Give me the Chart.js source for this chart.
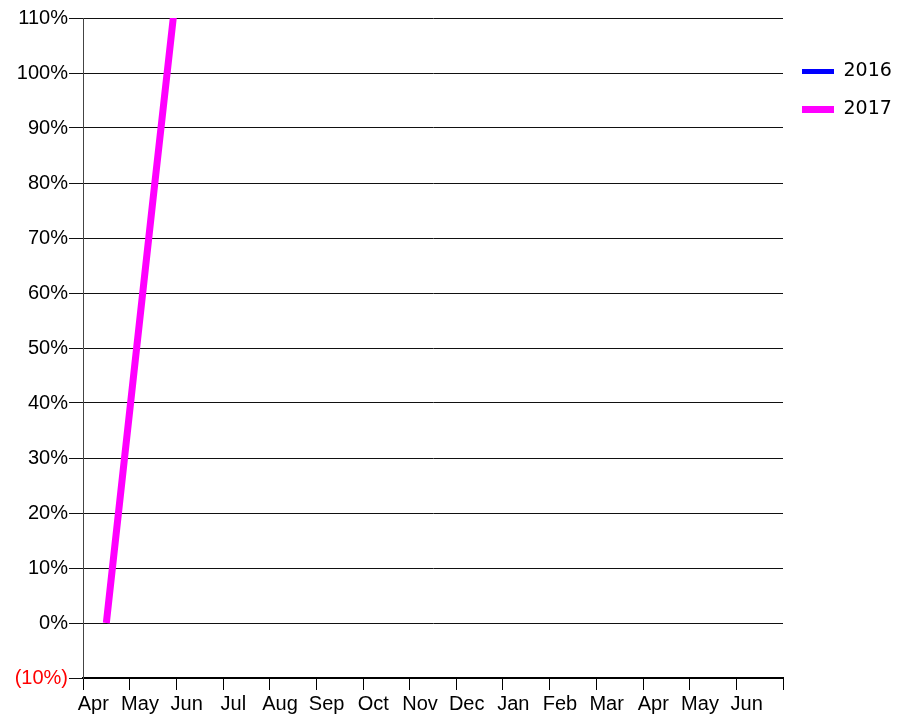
<!DOCTYPE html>
<html>
<head>
<meta charset="utf-8">
<script src="https://cdn.jsdelivr.net/npm/chart.js@4"></script>
<style>
  html, body { margin: 0; padding: 0; background: #fff; }
  #chart { display: block; }
</style>
</head>
<body>
<canvas id="chart" width="898" height="714"></canvas>
<script>
// months along the x axis
const months = ['Apr', 'May', 'Jun', 'Jul', 'Aug', 'Sep', 'Oct', 'Nov', 'Dec',
                'Jan', 'Feb', 'Mar', 'Apr', 'May', 'Jun'];

// series values (percent), null where nothing is drawn
const values2016 = [null, null, null, null, null, null, null, null, null, null, null, null, null, null, null];
const values2017 = [0, 77, 153, null, null, null, null, null, null, null, null, null, null, null, null];

// y axis range
const yMin = -10;
const yMax = 110;
const yStep = 10;

const ctx = document.getElementById('chart');
new Chart(ctx.getContext('2d'), {
  type: 'line',
  data: {
    labels: months,
    datasets: [
      {
        label: '2016',
        data: values2016,
        borderColor: '#0000ff',
        backgroundColor: '#0000ff',
        borderWidth: 5,
        pointRadius: 0,
        tension: 0
      },
      {
        label: '2017',
        data: values2017,
        borderColor: '#ff00ff',
        backgroundColor: '#ff00ff',
        borderWidth: 7,
        pointRadius: 0,
        tension: 0,
        clip: 0
      }
    ]
  },
  options: {
    responsive: false,
    animation: false,
    layout: { padding: { top: 18, right: 0, bottom: 0, left: 0 } },
    plugins: {
      title: { display: false },
      tooltip: { enabled: false },
      legend: {
        position: 'right',
        align: 'start',
        maxWidth: 115,
        title: { display: true, text: ' ', font: { size: 10 }, padding: { top: 13, bottom: 0 } },
        labels: {
          usePointStyle: true,
          pointStyle: 'line',
          pointStyleWidth: 32,
          padding: 19,
          color: '#000',
          font: { family: 'DejaVu Sans', size: 19 }
        }
      }
    },
    scales: {
      x: {
        offset: true,
        afterFit: s => { s.height = 36; },
        grid: {
          offset: true,
          drawOnChartArea: false,
          drawTicks: true,
          tickLength: 12,
          color: '#000'
        },
        border: { display: true, color: '#000', width: 2 },
        ticks: {
          autoSkip: false,
          maxRotation: 0,
          labelOffset: -13,
          padding: 2,
          color: '#000',
          font: { family: 'Liberation Sans', size: 20 }
        }
      },
      y: {
        min: yMin,
        max: yMax,
        afterFit: s => { s.width = 83; },
        grid: {
          color: '#111',
          lineWidth: 1,
          drawTicks: true,
          tickLength: 14
        },
        border: { display: true, color: '#444', width: 1 },
        ticks: {
          stepSize: yStep,
          padding: 1,
          color: c => (c.tick && c.tick.value < 0 ? '#ff0000' : '#000'),
          font: { family: 'Liberation Sans', size: 20 },
          callback: v => (v < 0 ? '(' + Math.abs(v) + '%)' : v + '%')
        }
      }
    }
  }
});
</script>
</body>
</html>
